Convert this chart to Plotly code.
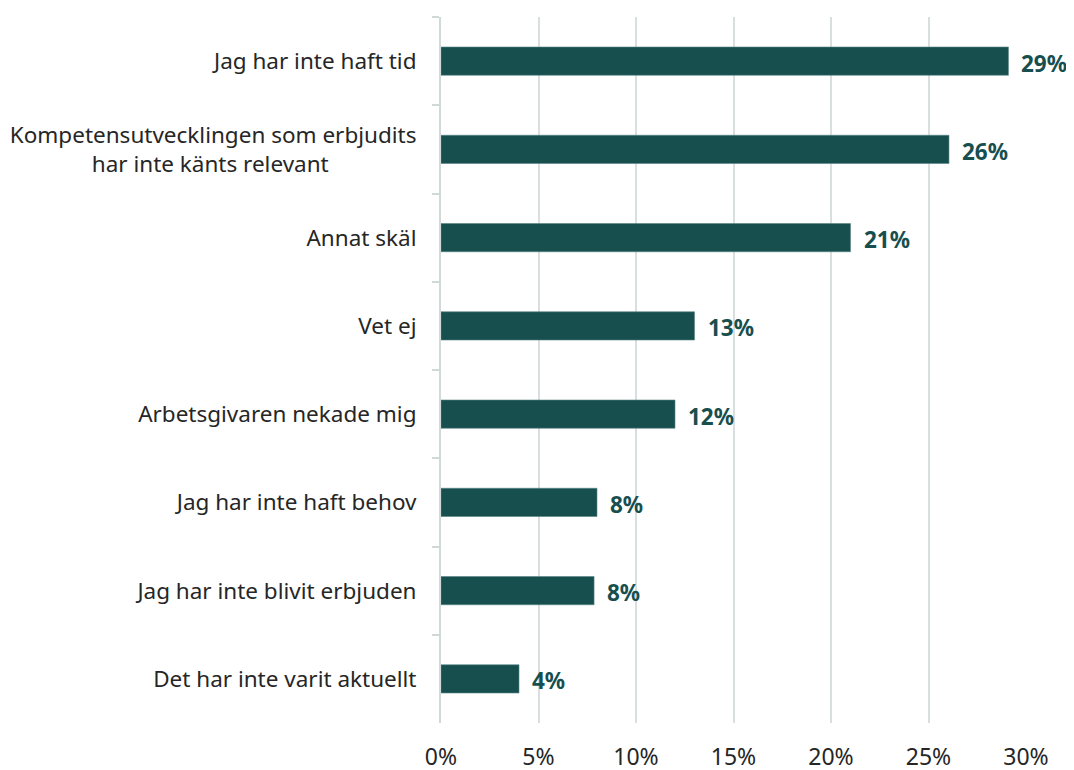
import plotly.graph_objects as go

categories = [
    "Jag har inte haft tid",
    "Kompetensutvecklingen som erbjudits<br>har inte känts relevant" + "\u00a0" * 15,
    "Annat skäl",
    "Vet ej",
    "Arbetsgivaren nekade mig",
    "Jag har inte haft behov",
    "Jag har inte blivit erbjuden",
    "Det har inte varit aktuellt",
]
values = [29.1, 26.05, 21.0, 13.0, 12.0, 8.0, 7.85, 4.0]
x_ticks = [0, 5, 10, 15, 20, 25, 30]
x_tick_labels = ["0%", "5%", "10%", "15%", "20%", "25%", "30%"]

BAR = "#174f4f"
FONT = "Noto Sans"

fig = go.Figure()
fig.add_trace(go.Bar(
    x=values, y=categories, orientation="h",
    marker=dict(color=BAR, line=dict(color="#5b8584", width=0.6)),
    hoverinfo="skip",
))
for c, v in zip(categories, values):
    fig.add_annotation(x=v, y=c, text=f"<b>{round(v):d}%</b>", showarrow=False,
                       xanchor="left", xshift=11, yshift=-2,
                       font=dict(family=FONT, size=22.5, color=BAR))

# page body has an 8px default margin, so offset margins accordingly
fig.update_layout(
    width=1074, height=770,
    margin=dict(l=433, r=56, t=9, b=55),
    paper_bgcolor="white", plot_bgcolor="white",
    bargap=0.68, showlegend=False,
    font=dict(family=FONT, size=22, color="#262626"),
)
fig.update_xaxes(
    range=[0, 30], tickvals=x_ticks, ticktext=x_tick_labels,
    showgrid=True, gridcolor="#d9dfdf", gridwidth=1.5, automargin=False,
    zeroline=False, showline=False, ticks="", ticklabelstandoff=18,
    tickfont=dict(size=23, color="#262626"),
)
fig.update_yaxes(
    autorange="reversed", tickson="boundaries", ticks="outside", ticklen=7,
    tickcolor="#d0d8d8", tickwidth=2, showline=True, linecolor="#d0d8d8", linewidth=2,
    showgrid=False, ticklabelstandoff=18, automargin=False,
    tickfont=dict(size=22.5, color="#262626"),
)
fig.write_html("out.html")
